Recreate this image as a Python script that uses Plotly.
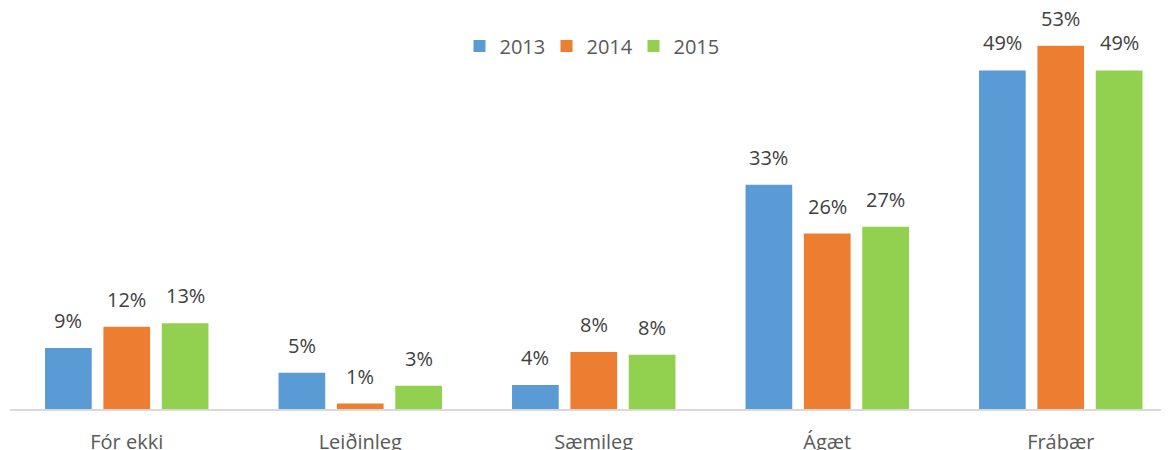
import plotly.graph_objects as go

categories = ["Fór ekki", "Leiðinleg", "Sæmileg", "Ágæt", "Frábær"]
years = ["2013", "2014", "2015"]
values_2013 = [8.9, 5.3, 3.5, 32.7, 49.4]
values_2014 = [12.0, 0.8, 8.3, 25.6, 53.0]
values_2015 = [12.5, 3.4, 7.9, 26.6, 49.4]
labels_2013 = ["9%", "5%", "4%", "33%", "49%"]
labels_2014 = ["12%", "1%", "8%", "26%", "53%"]
labels_2015 = ["13%", "3%", "8%", "27%", "49%"]
colors = ["#5B9BD5", "#ED7D31", "#92D050"]

series = [values_2013, values_2014, values_2015]
labels = [labels_2013, labels_2014, labels_2015]

FONT = "Open Sans, Lato, sans-serif"
W, H = 1169, 450
# page body has an 8px margin, compensate
ML, MR, MT, MB = 2, 0, 24, 49
plot_w = W - ML - MR
cat_px = 233.5
x_end = -0.5 + plot_w / cat_px

fig = go.Figure()
for i, (yr, vals) in enumerate(zip(years, series)):
    fig.add_trace(go.Bar(
        name=yr, x=categories, y=vals,
        marker=dict(color=colors[i], line=dict(width=0)),
        hoverinfo="skip",
    ))

bargap = 0.25
slot_px = cat_px * (1 - bargap) / 3
annotations = []
for i, labs in enumerate(labels):
    for c, v, t in zip(categories, series[i], labs):
        annotations.append(dict(
            x=c, y=v, xref="x", yref="y", text=t, showarrow=False,
            xanchor="center", yanchor="bottom",
            xshift=(i - 1) * slot_px, yshift=12,
            font=dict(family=FONT, size=20, color="#404040"),
        ))

fig.update_layout(
    width=W, height=H,
    margin=dict(l=ML, r=MR, t=MT, b=MB, pad=0),
    paper_bgcolor="white", plot_bgcolor="white",
    barmode="group", bargap=bargap, bargroupgap=0.2,
    font=dict(family=FONT, size=20, color="#595959"),
    showlegend=True,
    legend=dict(
        orientation="h", x=0.497, xanchor="center", y=0.963, yanchor="middle",
        font=dict(family=FONT, size=20, color="#595959"),
        bgcolor="rgba(0,0,0,0)", itemwidth=30, entrywidth=42,
    ),
    annotations=annotations,
    xaxis=dict(
        range=[-0.5, x_end], showline=True, linecolor="#D9D9D9", linewidth=1.5,
        showgrid=False, ticks="", tickfont=dict(family=FONT, size=20, color="#595959"),
        ticklabelstandoff=14, fixedrange=True,
    ),
    yaxis=dict(
        range=[0, 55], visible=False, showgrid=False, zeroline=False, fixedrange=True,
    ),
)

fig.write_html("out.html")
